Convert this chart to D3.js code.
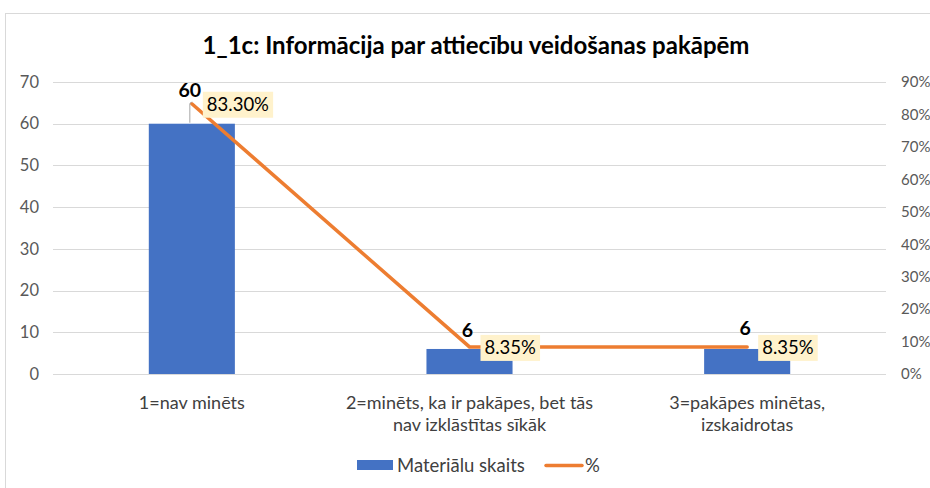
<!DOCTYPE html>
<html><head><meta charset="utf-8">
<script src="https://cdn.jsdelivr.net/npm/d3@7"></script>
<style>body{margin:0;background:#fff}svg{display:block}</style>
</head><body>
<script>
const categories = [["1=nav minēts"], ["2=minēts, ka ir pakāpes, bet tās", "nav izklāstītas sīkāk"], ["3=pakāpes minētas,", "izskaidrotas"]];
const counts = [60, 6, 6];
const percents = [0.833, 0.0835, 0.0835];
const pctLabels = ["83.30%", "8.35%", "8.35%"];
const leftTicks = [0, 10, 20, 30, 40, 50, 60, 70];
const rightTicks = [0, 0.1, 0.2, 0.3, 0.4, 0.5, 0.6, 0.7, 0.8, 0.9];
const title = "1_1c: Informācija par attiecību veidošanas pakāpēm";
const seriesNames = ["Materiālu skaits", "%"];

const W = 930, H = 488;
const font = "Lato, 'Open Sans', sans-serif";
const svg = d3.select("body").append("svg").attr("width", W).attr("height", H);
svg.append("rect").attr("x", 5.5).attr("y", 13.5).attr("width", 940).attr("height", 500)
  .attr("fill", "#fff").attr("stroke", "#D9D9D9");

const m = {l: 53, r: 886, t: 82, b: 374};
const x = d3.scaleBand().domain(d3.range(categories.length)).range([m.l, m.r]).paddingInner(0.69).paddingOuter(0.345);
const yL = d3.scaleLinear().domain([0, 70]).range([m.b, m.t]);
const yR = d3.scaleLinear().domain([0, 0.9]).range([m.b, m.t]);

// gridlines
svg.append("g").selectAll("line").data(leftTicks).join("line")
  .attr("x1", m.l).attr("x2", m.r).attr("y1", d => Math.round(yL(d)) + 0.5).attr("y2", d => Math.round(yL(d)) + 0.5)
  .attr("stroke", "#D9D9D9").attr("stroke-width", 1);

// left axis
const gl = svg.append("g").attr("transform", `translate(${m.l},0)`)
  .call(d3.axisLeft(yL).tickValues(leftTicks).tickSize(0).tickPadding(14));
gl.select(".domain").remove();
gl.selectAll("text").attr("font-family", font).attr("font-size", 16.5).attr("fill", "#595959");

// right axis
const gr = svg.append("g").attr("transform", `translate(${m.r},0)`)
  .call(d3.axisRight(yR).tickValues(rightTicks).tickFormat(d3.format(".0%")).tickSize(0).tickPadding(15));
gr.select(".domain").remove();
gr.selectAll("text").attr("font-family", font).attr("font-size", 15).attr("fill", "#595959");

// bars
svg.append("g").selectAll("rect").data(counts).join("rect")
  .attr("x", (d, i) => x(i)).attr("width", x.bandwidth())
  .attr("y", d => yL(d)).attr("height", d => yL(0) - yL(d)).attr("fill", "#4472C4");

// x labels
const xl = svg.append("g");
categories.forEach((lines, i) => {
  const t = xl.append("text").attr("x", x(i) + x.bandwidth() / 2).attr("y", 409)
    .attr("text-anchor", "middle").attr("font-family", font).attr("font-size", 18).attr("fill", "#404040");
  lines.forEach((ln, j) => t.append("tspan").attr("x", x(i) + x.bandwidth() / 2).attr("dy", j === 0 ? 0 : 22).text(ln));
});

// line
const cx = i => x(i) + x.bandwidth() / 2;
const line = d3.line().x((d, i) => cx(i)).y(d => yR(d));
svg.append("path").datum(percents).attr("d", line).attr("fill", "none")
  .attr("stroke", "#ED7D31").attr("stroke-width", 3.5).attr("stroke-linecap", "round");

// leader line for first label
svg.append("line").attr("x1", cx(0) - 2).attr("x2", cx(0) - 2).attr("y1", yL(counts[0]) - 1).attr("y2", yL(counts[0]) - 20)
  .attr("stroke", "#A6A6A6").attr("stroke-width", 1);
svg.append("line").attr("x1", cx(0) - 2).attr("x2", cx(0) - 0).attr("y1", yL(counts[0]) - 20).attr("y2", yL(counts[0]) - 22)
  .attr("stroke", "#A6A6A6").attr("stroke-width", 1);

// count labels
const countLabelY = [97, 337, 335];
svg.append("g").selectAll("text").data(counts).join("text")
  .attr("x", (d, i) => cx(i) - 2).attr("y", (d, i) => countLabelY[i])
  .attr("text-anchor", "middle").attr("font-family", font).attr("font-size", 19.5).attr("font-weight", "bold")
  .attr("fill", "#000").text(d => d);

// percent labels with background
const pg = svg.append("g");
percents.forEach((p, i) => {
  const bx = cx(i) + 11, by = yR(p) - 12;
  const t = pg.append("text").attr("x", bx + 4).attr("y", by + 19).attr("font-family", font)
    .attr("font-size", 18.5).attr("fill", "#000").text(pctLabels[i]);
  const bb = t.node().getBBox();
  pg.insert("rect", "text").attr("x", bx).attr("y", by).attr("width", bb.width + 8).attr("height", 26).attr("fill", "#FFF2CC");
});

// title
svg.append("text").attr("x", 476).attr("y", 54).attr("text-anchor", "middle")
  .attr("font-family", font).attr("font-size", 24).attr("font-weight", "bold").attr("fill", "#000").text(title);

// legend
const lg = svg.append("g");
lg.append("rect").attr("x", 357).attr("y", 460).attr("width", 36).attr("height", 10).attr("fill", "#4472C4");
lg.append("text").attr("x", 397).attr("y", 472).attr("font-family", font).attr("font-size", 18.5).attr("fill", "#404040").text(seriesNames[0]);
lg.append("line").attr("x1", 546).attr("x2", 582).attr("y1", 465.5).attr("y2", 465.5).attr("stroke", "#ED7D31").attr("stroke-width", 3.5).attr("stroke-linecap", "round");
lg.append("text").attr("x", 585).attr("y", 472).attr("font-family", font).attr("font-size", 18.5).attr("fill", "#404040").text(seriesNames[1]);
</script>
</body></html>
